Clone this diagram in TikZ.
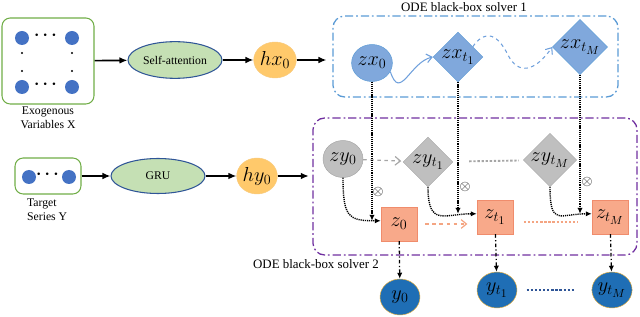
\documentclass[tikz,border=0pt]{standalone}
\usepackage{fontspec}
\setmainfont{Liberation Serif}
\usepackage{amsmath,bm}
\definecolor{exgreen}{HTML}{70AD47}
\definecolor{dotblue}{HTML}{4472C4}
\definecolor{encfill}{HTML}{C5E0B4}
\definecolor{encdraw}{HTML}{2F5597}
\definecolor{hfill}{HTML}{FFC96B}
\definecolor{hdraw}{HTML}{F8CB7F}
\definecolor{zxfill}{HTML}{80A8DC}
\definecolor{zxdraw}{HTML}{5B9BD5}
\definecolor{wavecol}{HTML}{6FA0DC}
\definecolor{zyfill}{HTML}{BFBFBF}
\definecolor{zydraw}{HTML}{A6A6A6}
\definecolor{zfill}{HTML}{F8A98A}
\definecolor{zdraw}{HTML}{F08C6C}
\definecolor{orangeline}{HTML}{F4A582}
\definecolor{yfill}{HTML}{1F6EB5}
\definecolor{ydraw}{HTML}{E8B040}
\definecolor{ybetween}{HTML}{2F5597}
\definecolor{solverblue}{HTML}{5B9BD5}
\definecolor{solverpurple}{HTML}{7030A0}
\usetikzlibrary{arrows.meta, shapes, positioning, calc}

\begin{document}
\begin{tikzpicture}[x=0.03cm, y=-0.03cm,
    inbox/.style={draw=exgreen, line width=0.9pt, rounded corners=7pt},
    indot/.style={circle, fill=dotblue, inner sep=0, minimum size=0.42cm},
    encoder/.style={ellipse, draw=encdraw, fill=encfill, line width=0.9pt,
      minimum width=2.82cm, minimum height=1.1cm, inner sep=0},
    hidden/.style={ellipse, fill=hfill, draw=hdraw, minimum width=1.22cm,
      minimum height=1.08cm, inner sep=0, font=\LARGE},
    zxcirc/.style={ellipse, fill=zxfill, draw=zxdraw, minimum width=1.2cm,
      minimum height=1.11cm, inner sep=0, font=\LARGE},
    zxdiam/.style={diamond, fill=zxfill, draw=zxdraw, minimum width=1.5cm,
      minimum height=1.5cm, inner sep=0, font=\LARGE},
    zycirc/.style={ellipse, fill=zyfill, draw=zydraw, minimum width=1.2cm,
      minimum height=1.11cm, inner sep=0, font=\LARGE},
    zydiam/.style={diamond, fill=zyfill, draw=zydraw, minimum width=1.5cm,
      minimum height=1.5cm, inner sep=0, font=\LARGE},
    zsq/.style={rectangle, fill=zfill, draw=zdraw, minimum width=1.08cm,
      minimum height=1.02cm, inner sep=0, font=\LARGE},
    ycirc/.style={ellipse, fill=yfill, draw=ydraw, minimum width=1.2cm,
      minimum height=1.08cm, inner sep=0, font=\LARGE},
    solverbox/.style={draw, line width=1.1pt, rounded corners=10pt,
      dash pattern=on 7pt off 2.5pt on 1.5pt off 2.5pt},
    flow/.style={line width=1.4pt, -{Latex[length=2.4mm, width=2mm]}},
    mixline/.style={line width=1.2pt, dash pattern=on 1pt off 0.8pt,
      -{Latex[length=1.8mm, width=1.6mm]}},
    outline/.style={line width=1.1pt, dash pattern=on 3pt off 2pt on 1pt off 2pt,
      -{Latex[length=1.8mm, width=1.6mm]}}]
    \useasboundingbox (0,0) rectangle (640,317);

    % exogenous input
    \node[inbox, minimum width=2.76cm, minimum height=2.58cm] (exo) at (48,61) {};
    \node[indot] (exa) at (22,38) {};
    \node[indot] (exb) at (72,38) {};
    \node[indot] (exc) at (22,87) {};
    \node[indot] (exd) at (72,87) {};
    \node (exdotsa) at (47,36) {\Large$\bm{\cdots}$};
    \node (exdotsb) at (47,85) {\Large$\bm{\cdots}$};
    \foreach \xx in {22,72}
      \foreach \yy in {53,71}
        \fill (\xx,\yy) circle (1.2);
    \node[align=center] (exolab) at (48,118) {Exogenous\\Variables X};

    % target input
    \node[inbox, minimum width=1.98cm, minimum height=1.08cm] (tgt) at (48,176) {};
    \node[indot] (tga) at (29,177) {};
    \node[indot] (tgb) at (69,177) {};
    \node (tgdots) at (49,175) {\Large$\bm{\cdots}$};
    \node[align=left, anchor=west] (tgtlab) at (23,210) {Target\\Series Y};

    % encoders
    \node[encoder] (selfatt) at (175,60) {Self-attention};
    \node[encoder, minimum height=1.05cm] (gru) at (158,176) {GRU};
    \node[hidden] (hx0) at (275,60) {$hx_0$};
    \node[hidden] (hy0) at (257,176) {$hy_0$};

    % solvers
    \node[solverbox, draw=solverblue, minimum width=8.55cm, minimum height=2.43cm] (solver1) at (475.5,56.5) {};
    \node[solverbox, draw=solverpurple, minimum width=9.72cm, minimum height=4.11cm] (solver2) at (475,186.5) {};
    \node[font=\fontsize{11}{13}\selectfont] (title1) at (464,7) {ODE black-box solver 1};
    \node[font=\fontsize{11}{13}\selectfont] (title2) at (316,264) {ODE black-box solver 2};

    \node[zxcirc] (zx0) at (372,63) {$zx_0$};
    \node[zxdiam] (zxt1) at (458,57) {$zx_{t_1}$};
    \node[zxdiam] (zxtM) at (580,47) {$zx_{t_M}$};
    \node[zycirc] (zy0) at (343,159) {$zy_0$};
    \node[zydiam] (zyt1) at (428,162) {$zy_{t_1}$};
    \node[zydiam] (zytM) at (550,160) {$zy_{t_M}$};
    \node[zsq] (z0) at (399,224) {$z_0$};
    \node[zsq] (zt1) at (495,217) {$z_{t_1}$};
    \node[zsq] (ztM) at (610,217) {$z_{t_M}$};
    \node[ycirc] (y0) at (400,297) {$y_0$};
    \node[ycirc] (yt1) at (497,290) {$y_{t_1}$};
    \node[ycirc] (ytM) at (612,290) {$y_{t_M}$};

    % input flow
    \draw[flow] (exo) -- (selfatt);
    \draw[flow] (selfatt) -- (hx0);
    \draw[flow, shorten >=5pt] (hx0.east) -- (hx0.east -| solver1.west);
    \draw[flow] (tgt) -- (gru);
    \draw[flow] (gru) -- (hy0);
    \draw[flow, shorten >=3pt] (hy0.east) -- (hy0.east -| solver2.west);

    % latent trajectories
    \draw[wavecol, line width=0.9pt, -{Straight Barb[length=1.6mm, width=2.6mm]}]
      (zx0.-25) .. controls (400,102) and (410,62) .. (zxt1.west);
    \draw[wavecol, line width=0.9pt, dashed, -{Straight Barb[length=1.6mm, width=2.6mm]}]
      (zxt1.35) .. controls (486,28) and (498,35) .. (508,55)
      .. controls (518,75) and (535,72) .. (zxtM.west);
    \draw[zydraw, line width=1pt, dashed, shorten >=2pt,
      -{Straight Barb[length=1.6mm, width=2.6mm]}] (zy0) -- (zyt1);
    \draw[zydraw, line width=1.6pt, dash pattern=on 2pt off 1.5pt, shorten <=14pt, shorten >=4pt]
      (zyt1) -- (zytM);
    \draw[orangeline, line width=1pt, dashed, shorten <=7pt, shorten >=8pt,
      -{Straight Barb[length=1.6mm, width=2.6mm]}] (z0.east) -- (z0.east -| zt1.west);
    \draw[orangeline, line width=1.8pt, dash pattern=on 2pt off 1.5pt, shorten <=9pt, shorten >=12pt]
      ([yshift=-4pt]zt1.east) -- ([yshift=-4pt]ztM.west);
    \draw[ybetween, line width=1.8pt, dash pattern=on 2pt off 1.5pt, shorten <=8pt, shorten >=15pt]
      (yt1) -- (ytM);

    % mixing of both solvers
    \foreach \i/\ox/\oy in {0/378/192, t1/465/187, tM/587/182}{%
      \draw[mixline] (zx\i) -- (zx\i |- z\i.170);
      \draw[mixline] (zy\i.south) .. controls +(0,40) and +(-32,0) .. (z\i.170);
      \node[inner sep=0, font=\large] (mix\i) at (\ox,\oy) {$\otimes$};
      \draw[outline] (z\i) -- (y\i);
    }
\end{tikzpicture}
\end{document}
